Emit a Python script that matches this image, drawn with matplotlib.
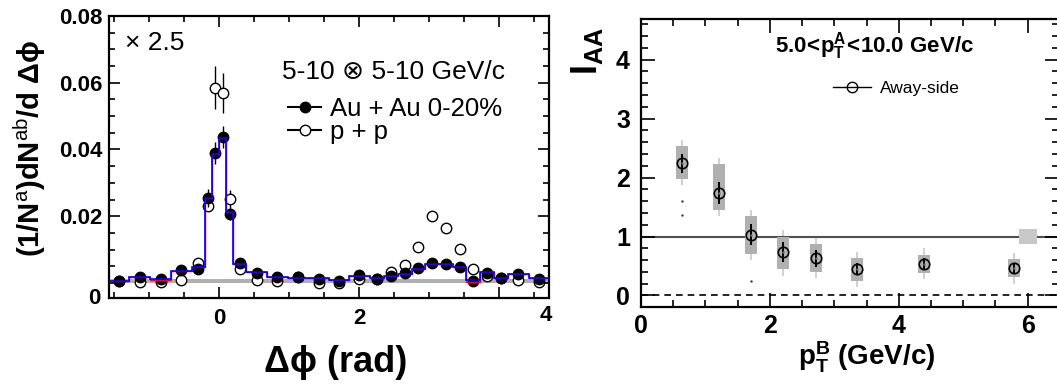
"""Per-trigger yield vs delta-phi (left) and away-side I_AA vs pT (right)."""

import matplotlib

matplotlib.use("Agg")

import matplotlib.pyplot as plt
import numpy as np
from matplotlib.patches import Rectangle
from matplotlib.ticker import MultipleLocator

plt.rcParams["font.family"] = ["Liberation Sans", "DejaVu Sans"]
plt.rcParams["mathtext.fontset"] = "custom"
plt.rcParams["mathtext.rm"] = "Liberation Sans"
plt.rcParams["mathtext.it"] = "Liberation Sans:italic"
plt.rcParams["mathtext.bf"] = "Liberation Sans:bold"

W, H = 1057, 386

# --- left panel data: 5-10 x 5-10 GeV/c correlation ---
DPHI_EDGES = [
    -np.pi / 2, -1.28, -0.98, -0.69, -0.39, -0.2, -0.1, 0.0, 0.1, 0.2, 0.39, 0.69, 0.98,
    1.28, np.pi / 2, 1.86, 2.15, 2.36, 2.55, 2.75, 2.94, np.pi, 3.34, 3.53, 3.73, 3.92,
    4.12, 4.42, 3 * np.pi / 2,
]
AUAU_YIELD = [
    0.0006, 0.0019, 0.0012, 0.0039, 0.0041, 0.0256, 0.0389, 0.0437, 0.0208, 0.0059,
    0.0031, 0.0019, 0.0019, 0.0012,
    0.0006, 0.0024, 0.0011, 0.0021, 0.0029, 0.0044, 0.0059, 0.0057, 0.0047, 0.0007,
    0.0031, 0.0016, 0.0027, 0.0011,
]
AUAU_ERR = [
    0.0004, 0.0004, 0.0004, 0.0004, 0.0004, 0.0027, 0.0033, 0.0034, 0.0020, 0.0004,
    0.0004, 0.0004, 0.0004, 0.0004,
    0.0004, 0.0004, 0.0004, 0.0004, 0.0004, 0.0004, 0.0004, 0.0004, 0.0004, 0.0004,
    0.0004, 0.0004, 0.0004, 0.0004,
]
PP_YIELD = [
    0.0005, 0.0002, 0.0004, 0.0009, 0.0059, 0.0232, 0.0585, 0.0569, 0.0252, 0.0041,
    0.0009, 0.0007, 0.0017, 0.0001,
    0.0000, 0.0011, 0.0011, 0.0032, 0.0054, 0.0107, 0.0201, 0.0164, 0.0101, 0.0041,
    0.0021, 0.0015, 0.0009, 0.0002,
]
PP_ERR = [
    0.0004, 0.0004, 0.0004, 0.0004, 0.0005, 0.0015, 0.0064, 0.0060, 0.0026, 0.0004,
    0.0004, 0.0004, 0.0004, 0.0004,
    0.0004, 0.0004, 0.0004, 0.0004, 0.0004, 0.0005, 0.0006, 0.0006, 0.0005, 0.0004,
    0.0004, 0.0004, 0.0004, 0.0004,
]
MODEL_BLUE = [
    0.0007, 0.0017, 0.0012, 0.0036, 0.0047, 0.0256, 0.0387, 0.0434, 0.0214, 0.0057,
    0.0033, 0.0017, 0.0016, 0.0014,
    0.0009, 0.0022, 0.0014, 0.0022, 0.0026, 0.0042, 0.0057, 0.0057, 0.0047, 0.0009,
    0.0032, 0.0014, 0.0026, 0.0014,
]
MODEL_RED = [
    0.0007, 0.0017, 0.0010, 0.0036, 0.0047, 0.0256, 0.0387, 0.0434, 0.0214, 0.0057,
    0.0033, 0.0017, 0.0016, 0.0014,
    0.0009, 0.0022, 0.0014, 0.0022, 0.0026, 0.0042, 0.0057, 0.0057, 0.0047, 0.0004,
    0.0032, 0.0014, 0.0026, 0.0014,
]
PEDESTAL_LO, PEDESTAL_HI = 0.0001, 0.0012

# --- right panel data: away-side I_AA ---
PT_B = [0.64, 1.21, 1.70, 2.20, 2.71, 3.35, 4.40, 5.79]
IAA = [2.24, 1.74, 1.03, 0.73, 0.63, 0.45, 0.54, 0.46]
IAA_STAT = [0.16, 0.18, 0.18, 0.17, 0.15, 0.10, 0.09, 0.09]
IAA_SYS_LO = [1.97, 1.45, 0.71, 0.45, 0.40, 0.25, 0.38, 0.31]
IAA_SYS_HI = [2.53, 2.23, 1.34, 0.99, 0.88, 0.63, 0.69, 0.62]
IAA_TOT_LO = [1.88, 1.34, 0.60, 0.33, 0.29, 0.15, 0.28, 0.20]
IAA_TOT_HI = [2.64, 2.34, 1.45, 1.11, 0.99, 0.74, 0.80, 0.72]
STRAY_X = [0.64, 0.64, 1.70]
STRAY_Y = [1.60, 1.37, 0.25]
NORM_X = (5.86, 6.15)
NORM_Y = (0.87, 1.12)


def fig_pos(x_px, y_px):
    return x_px / W, 1 - y_px / H


def style_ticks(ax, major, minor, size):
    ax.tick_params(which="both", direction="in", top=True, right=True,
                   labelsize=size, width=1.2)
    ax.tick_params(which="major", length=major)
    ax.tick_params(which="minor", length=minor)
    for lab in ax.get_xticklabels() + ax.get_yticklabels():
        lab.set_fontweight("bold")
    for sp in ax.spines.values():
        sp.set_linewidth(1.6)


fig = plt.figure(figsize=(W / 100, H / 100), dpi=100)

# ---------------- left panel ----------------
L_X0, L_Y0, L_W, L_H = 109, 16, 440, 282
ax = fig.add_axes([L_X0 / W, (H - L_Y0 - L_H) / H, L_W / W, L_H / H])
edges = np.array(DPHI_EDGES)
centers = 0.5 * (edges[:-1] + edges[1:])

ax.fill_between([edges[0], edges[-1]], PEDESTAL_LO, PEDESTAL_HI,
                color="#b0b0b0", lw=0, zorder=1)
ax.errorbar(centers, PP_YIELD, yerr=PP_ERR, fmt="o", ms=7.5, mfc="white",
            mec="black", mew=1.0, ecolor="black", elinewidth=1.0, zorder=3)
ax.errorbar(centers, AUAU_YIELD, yerr=AUAU_ERR, fmt="o", ms=7.5, mfc="black",
            mec="black", ecolor="black", elinewidth=1.0, zorder=4)
ax.stairs(MODEL_RED, edges, baseline=None, color="#ff0000", lw=1.0, zorder=5)
ax.stairs(MODEL_BLUE, edges, baseline=None, color="#0000ff", lw=1.2, zorder=6)

ax.set_xlim(edges[0], edges[-1])
ax.set_ylim(-0.0045, 0.08)
ax.set_xticks([0, 2, 4])
ax.set_xticklabels(["0", "2", ""])
ax.xaxis.set_minor_locator(MultipleLocator(0.5))
ax.set_yticks([0, 0.02, 0.04, 0.06, 0.08])
ax.set_yticklabels(["", "0.02", "0.04", "0.06", "0.08"])
ax.yaxis.set_minor_locator(MultipleLocator(0.005))
style_ticks(ax, 8, 4, 16)
ax.tick_params(axis="x", pad=7)
ax.tick_params(axis="y", pad=5)
# end labels sit at the axis corners in the original figure
ax.text(-0.02, 0.0, "0", transform=ax.transAxes, ha="right", va="center",
        fontsize=16, fontweight="bold")
ax.text(0.993, -0.062, "4", transform=ax.transAxes, ha="center", va="center",
        fontsize=16, fontweight="bold")

ax.text((125 - L_X0) / L_W, 1 - (43 - L_Y0) / L_H, "× 2.5", transform=ax.transAxes,
        fontsize=19, ha="left", va="center")
ax.text((282 - L_X0) / L_W, 1 - (72 - L_Y0) / L_H, "5-10 ⊗ 5-10 GeV/c",
        transform=ax.transAxes, fontsize=19, ha="left", va="center")
h_aa = ax.errorbar([], [], fmt="-o", ms=7.5, color="black", mfc="black")
h_pp = ax.errorbar([], [], fmt="-o", ms=7.5, color="black", mfc="white")
ax.legend([h_aa, h_pp], ["Au + Au 0-20%", "p + p"], loc="upper left",
          bbox_to_anchor=((288 - L_X0) / L_W, 1 - (97 - L_Y0) / L_H),
          frameon=False, fontsize=18.5, handlelength=1.3, handletextpad=0.35,
          labelspacing=-0.05, borderaxespad=0, borderpad=0)

fig.text(*fig_pos(30, 148), r"(1/N$^{\mathrm{a}}$)dN$^{\mathrm{ab}}$/d Δϕ",
         rotation=90, fontsize=21, fontweight="bold", ha="center", va="center")
fig.text(*fig_pos(336, 363), "Δϕ (rad)", fontsize=26, fontweight="bold",
         ha="center", va="center")

# ---------------- right panel ----------------
R_X0, R_Y0, R_W, R_H = 641, 19, 417.5, 287.7
ax = fig.add_axes([R_X0 / W, (H - R_Y0 - R_H) / H, R_W / W, R_H / H])
half = 0.093
ax.vlines(PT_B, IAA_TOT_LO, IAA_TOT_HI, color="#c8c8c8", lw=1.2, zorder=1)
for x, lo, hi in zip(PT_B, IAA_SYS_LO, IAA_SYS_HI):
    ax.add_patch(Rectangle((x - half, lo), 2 * half, hi - lo,
                           color="#b0b0b0", lw=0, zorder=2))
ax.add_patch(Rectangle((NORM_X[0], NORM_Y[0]), NORM_X[1] - NORM_X[0],
                       NORM_Y[1] - NORM_Y[0], color="#c8c8c8", lw=0, zorder=2))
ax.axhline(1.0, color="#505050", lw=1.5, zorder=1.5)
ax.axhline(0.0, color="black", lw=1.2, ls=(0, (4, 3)), zorder=1.5)
ax.errorbar(PT_B, IAA, yerr=IAA_STAT, fmt="none", ecolor="black", elinewidth=1.4,
            zorder=3)
ax.plot(PT_B, IAA, "o", ms=7.5, mfc="none", mec="black", mew=1.2, zorder=4)
ax.plot(PT_B, IAA, ".", ms=1.5, color="#707070", zorder=5)
ax.plot(STRAY_X, STRAY_Y, ".", ms=1.5, color="#404040", zorder=5)

ax.set_xlim(0, 6.48)
ax.set_ylim(-0.19, 4.69)
ax.set_xticks([0, 2, 4, 6])
ax.xaxis.set_minor_locator(MultipleLocator(0.5))
ax.set_yticks([0, 1, 2, 3, 4])
ax.yaxis.set_minor_locator(MultipleLocator(0.2))
style_ticks(ax, 10, 5, 18)
ax.tick_params(axis="x", pad=5)
ax.tick_params(axis="y", pad=8)

ax.text((874 - R_X0) / R_W, 1 - (46 - R_Y0) / R_H,
        r"$\mathbf{5.0\!<\!p_T^A\!<\!10.0\ GeV/c}$", transform=ax.transAxes,
        fontsize=16, ha="center", va="center")
h_away, = ax.plot([], [], "-o", ms=7.5, color="black", mfc="none", lw=1.0)
ax.legend([h_away], ["Away-side"], loc="center left",
          bbox_to_anchor=((833 - R_X0) / R_W, 1 - (88 - R_Y0) / R_H),
          frameon=False, fontsize=12.5, handlelength=2.2, handletextpad=0.5,
          borderaxespad=0, borderpad=0)

fig.text(*fig_pos(587, 27), r"$\mathbf{I_{AA}}$", rotation=90, fontsize=26,
         ha="center", va="top")
fig.text(*fig_pos(867, 357), r"$\mathbf{p_T^B}$ (GeV/c)", fontsize=20,
         fontweight="bold", ha="center", va="center")

fig.savefig("out.png", dpi=100)
